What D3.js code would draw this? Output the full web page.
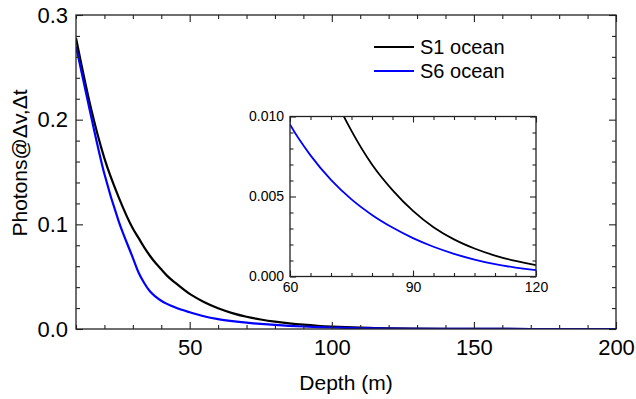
<!DOCTYPE html>
<html>
<head>
<meta charset="utf-8">
<script src="https://cdn.jsdelivr.net/npm/d3@7"></script>
<style>
  html, body { margin: 0; padding: 0; background: #fff; }
  svg { display: block; }
  text { font-family: "Liberation Sans", Arial, Helvetica, sans-serif; fill: #000; }
</style>
</head>
<body>
<svg id="chart" width="636" height="399"></svg>
<script>
// Depth samples (m) and photon counts for the two ocean scenarios
const depth = [10, 15, 20, 25, 30, 32, 34, 36, 38, 40, 42, 45, 50, 55, 60, 65, 70, 75, 80, 85,
               90, 95, 100, 105, 110, 115, 120, 130, 140, 150, 160, 180, 200];
const s1Ocean = [0.278, 0.214, 0.163, 0.126, 0.096, 0.087, 0.078, 0.070, 0.063, 0.057, 0.051, 0.044,
                 0.0335, 0.0258, 0.0198, 0.0152, 0.0117, 0.0091, 0.0070, 0.0054, 0.0041, 0.00308,
                 0.00232, 0.00175, 0.00131, 0.00097, 0.00071, 0.00038, 0.00020, 0.00010, 0.00005,
                 0.00001, 0];
const s6Ocean = [0.270, 0.207, 0.148, 0.103, 0.068, 0.054, 0.044, 0.036, 0.031, 0.027, 0.024, 0.0205,
                 0.0160, 0.0122, 0.0095, 0.00757, 0.00604, 0.00482, 0.00385, 0.00306, 0.00240, 0.00186,
                 0.00142, 0.00106, 0.00077, 0.00056, 0.00040, 0.00020, 0.00010, 0.00005, 0.00003,
                 0.00001, 0];
const seriesNames = ["S1 ocean", "S6 ocean"];
const seriesColors = ["#000000", "#0000ff"];

// Axis ticks, main panel and inset
const mainXTicks = [50, 100, 150, 200];
const mainYTicks = [0.0, 0.1, 0.2, 0.3];
const insetXTicks = [60, 90, 120];
const insetYTicks = [0.000, 0.005, 0.010];

const svg = d3.select("#chart");
const series = [s1Ocean, s6Ocean].map((vals, i) => ({
  name: seriesNames[i],
  color: seriesColors[i],
  points: depth.map((d, j) => ({ x: d, y: vals[j] }))
}));

// Draws a boxed panel with inward ticks on all four sides
function panel(opts) {
  const { left, right, top, bottom, xDomain, yDomain, xMajor, xMinorStep, yMajor, yMinorStep,
          majorLen, minorLen, fontSize, xFmt, yFmt, xLabelGap, yLabelGap, lineWidth, clipId } = opts;
  const x = d3.scaleLinear().domain(xDomain).range([left, right]);
  const y = d3.scaleLinear().domain(yDomain).range([bottom, top]);
  const g = svg.append("g");

  g.append("rect").attr("x", left).attr("y", top)
    .attr("width", right - left).attr("height", bottom - top).attr("fill", "#fff");

  g.append("clipPath").attr("id", clipId).append("rect")
    .attr("x", left).attr("y", top).attr("width", right - left).attr("height", bottom - top);

  const line = d3.line().x(d => x(d.x)).y(d => y(d.y)).curve(d3.curveMonotoneX);
  const curves = g.append("g").attr("clip-path", `url(#${clipId})`);
  series.forEach(s => {
    curves.append("path").datum(s.points)
      .attr("d", line).attr("fill", "none")
      .attr("stroke", s.color).attr("stroke-width", lineWidth)
      .attr("stroke-linejoin", "round");
  });

  const xMinor = d3.range(xDomain[0], xDomain[1] + 1e-9, xMinorStep)
    .filter(v => !xMajor.some(m => Math.abs(m - v) < 1e-9));
  const yMinor = d3.range(yDomain[0], yDomain[1] + 1e-12, yMinorStep)
    .filter(v => !yMajor.some(m => Math.abs(m - v) < 1e-12));

  // Bottom axis (ticks inward)
  g.append("g").attr("transform", `translate(0,${bottom})`)
    .call(d3.axisBottom(x).tickValues(xMajor).tickSize(-majorLen).tickPadding(xLabelGap).tickFormat(xFmt));
  g.append("g").attr("transform", `translate(0,${bottom})`)
    .call(d3.axisBottom(x).tickValues(xMinor).tickSize(-minorLen).tickFormat(""));
  // Top axis
  g.append("g").attr("transform", `translate(0,${top})`)
    .call(d3.axisTop(x).tickValues(xMajor).tickSize(-majorLen).tickFormat(""));
  g.append("g").attr("transform", `translate(0,${top})`)
    .call(d3.axisTop(x).tickValues(xMinor).tickSize(-minorLen).tickFormat(""));
  // Left axis
  g.append("g").attr("transform", `translate(${left},0)`)
    .call(d3.axisLeft(y).tickValues(yMajor).tickSize(-majorLen).tickPadding(yLabelGap).tickFormat(yFmt));
  g.append("g").attr("transform", `translate(${left},0)`)
    .call(d3.axisLeft(y).tickValues(yMinor).tickSize(-minorLen).tickFormat(""));
  // Right axis
  g.append("g").attr("transform", `translate(${right},0)`)
    .call(d3.axisRight(y).tickValues(yMajor).tickSize(-majorLen).tickFormat(""));
  g.append("g").attr("transform", `translate(${right},0)`)
    .call(d3.axisRight(y).tickValues(yMinor).tickSize(-minorLen).tickFormat(""));

  g.selectAll(".domain").remove();
  g.selectAll(".tick line").attr("stroke", "#222").attr("stroke-width", 1.1);
  g.selectAll(".tick text").attr("font-size", fontSize)
    .attr("font-family", '"Liberation Sans", Arial, Helvetica, sans-serif').attr("fill", "#000");

  g.append("rect").attr("x", left).attr("y", top)
    .attr("width", right - left).attr("height", bottom - top)
    .attr("fill", "none").attr("stroke", "#222").attr("stroke-width", 1.3);

  return { x, y, g };
}

// Main panel
panel({
  left: 76, right: 616, top: 15, bottom: 329,
  xDomain: [10, 200], yDomain: [0, 0.3],
  xMajor: mainXTicks, xMinorStep: 10, yMajor: mainYTicks, yMinorStep: 0.02,
  majorLen: 7, minorLen: 4, fontSize: 22,
  xFmt: d3.format("d"), yFmt: d3.format(".1f"),
  xLabelGap: 10, yLabelGap: 8, lineWidth: 2.2, clipId: "clipMain"
});

// Axis titles
svg.append("text").attr("x", 346).attr("y", 390)
  .attr("text-anchor", "middle").attr("font-size", 21).text("Depth (m)");
svg.append("text")
  .attr("transform", "translate(27,163) rotate(-90)")
  .attr("text-anchor", "middle").attr("font-size", 21).text("Photons@\u0394v,\u0394t");

// Legend
const legend = svg.append("g").attr("transform", "translate(374,47)");
series.forEach((s, i) => {
  const row = legend.append("g").attr("transform", `translate(0,${i * 24})`);
  row.append("line").attr("x1", 0).attr("x2", 40).attr("y1", 0).attr("y2", 0)
    .attr("stroke", s.color).attr("stroke-width", 2.2);
  row.append("text").attr("x", 46).attr("y", 7).attr("font-size", 20).text(s.name);
});

// Inset: zoom of the 60–120 m tail
panel({
  left: 290, right: 536, top: 116.5, bottom: 276.5,
  xDomain: [60, 120], yDomain: [0, 0.010],
  xMajor: insetXTicks, xMinorStep: 5, yMajor: insetYTicks, yMinorStep: 0.001,
  majorLen: 6, minorLen: 3.5, fontSize: 14,
  xFmt: d3.format("d"), yFmt: d3.format(".3f"),
  xLabelGap: 6, yLabelGap: 6, lineWidth: 1.8, clipId: "clipInset"
});
</script>
</body>
</html>
